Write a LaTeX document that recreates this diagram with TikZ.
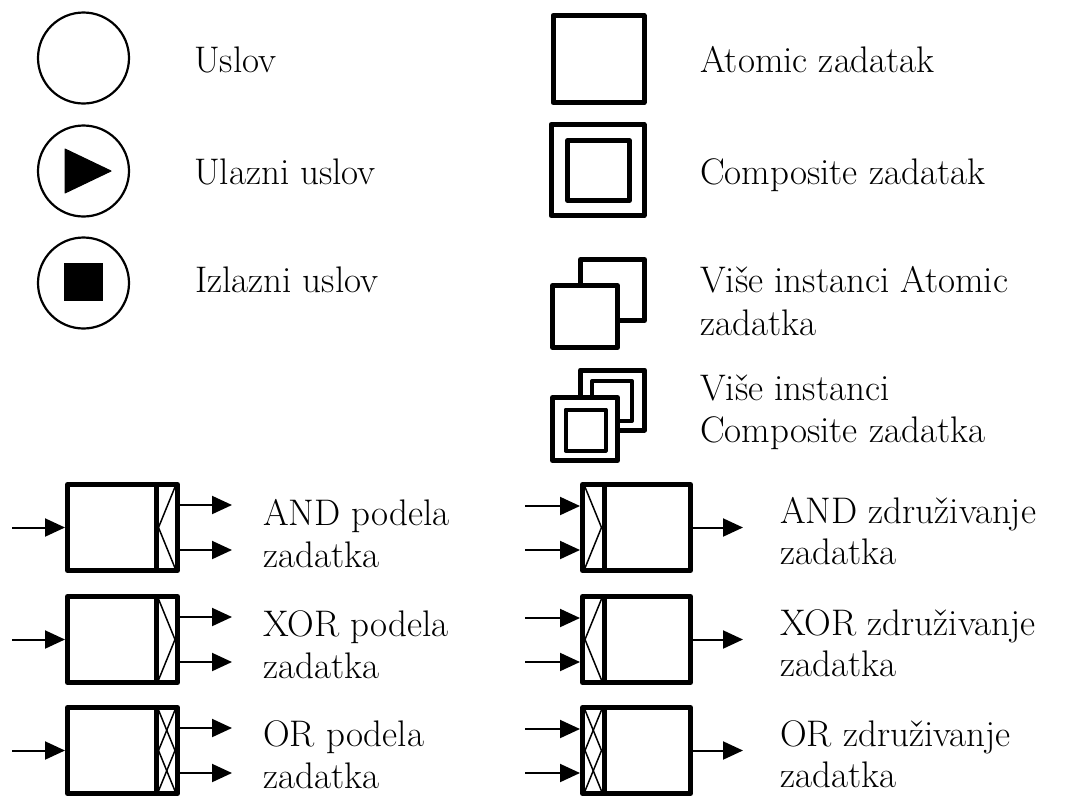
\documentclass[tikz,border=0pt]{standalone}
\usepackage{fontspec}
\usetikzlibrary{arrows.meta}
\begin{document}
\begin{tikzpicture}[x=1pt,y=-1pt,
  lbl/.style={anchor=base west, inner sep=0pt, font=\fontsize{37}{42}\selectfont},
  cond/.style={circle, draw, line width=2.2pt, inner sep=0pt, minimum size=91pt},
  task/.style={draw, line width=5pt, line join=round, fill=white, inner sep=0pt, outer sep=2.5pt},
  inner task/.style={draw, line width=4.5pt, line join=round, inner sep=0pt},
  bar/.style={line width=5pt},
  gate/.style={line width=1.5pt},
  flow/.style={line width=2pt, -{Triangle[length=20pt,width=18pt]}},
]
\useasboundingbox (0,0) rectangle (1073,809);
\clip (0,0) rectangle (1073,809);

% ---- conditions ----
\node[cond] (c1) at (83.5,58) {};
\node[lbl] (t1) at (194,72) {Uslov};

\node[cond] (c2) at (83.5,171) {};
\filldraw[line width=1pt, line join=round] (65,149) -- (111,171) -- (65,193) -- cycle;
\node[lbl] (t2) at (194,184) {Ulazni uslov};

\node[cond] (c3) at (83.5,283) {};
\fill (64,263) rectangle (103,301);
\node[lbl] (t3) at (195,292) {Izlazni uslov};

% ---- tasks ----
\node[task, minimum width=91pt, minimum height=87pt] (a1) at (598.5,59) {};
\node[lbl] (t4) at (700,72) {Atomic zadatak};

\node[task, minimum width=93pt, minimum height=91pt] (a2) at (597.5,170) {};
\node[inner task, minimum width=62pt, minimum height=60pt] (a2i) at (598.5,170.5) {};
\node[lbl] (t5) at (700,184) {Composite zadatak};

% multiple instances, atomic
\node[task, minimum width=64pt, minimum height=61pt] (m1b) at (612.5,290) {};
\node[task, minimum width=65pt, minimum height=62pt] (m1f) at (585,316.5) {};
\node[lbl] (t6a) at (700,292) {Više instanci Atomic};
\node[lbl] (t6b) at (700,335) {zadatka};

% multiple instances, composite
\node[task, minimum width=64pt, minimum height=60pt] (m2b) at (612.5,400) {};
\node[inner task, line width=4pt, minimum width=40pt, minimum height=40pt] (m2bi) at (612,401) {};
\node[task, minimum width=65pt, minimum height=63pt] (m2f) at (585,429) {};
\node[inner task, line width=4pt, minimum width=40pt, minimum height=41pt] (m2fi) at (585.5,430) {};
\node[lbl] (t7a) at (700,400) {Više instanci};
\node[lbl] (t7b) at (700,442) {Composite zadatka};

% ---- split tasks ----
% AND split
\begin{scope}[shift={(0,482)}]
  \node[task, minimum width=110pt, minimum height=86pt] (s1) at (122.5,45.5) {};
  \draw[bar] (156,2.5) -- (156,88.5);
  \draw[gate] (175,5) -- (158.5,45.5) -- (175,86);
  \coordinate (s1in) at (12,45.5);
  \coordinate (s1o1) at (232,23);
  \coordinate (s1o2) at (232,68);
  \draw[flow] (s1in) -- (s1.west);
  \draw[flow] (s1.east |- s1o1) -- (s1o1);
  \draw[flow] (s1.east |- s1o2) -- (s1o2);
  \node[lbl] (l1a) at (263,43) {AND podela};
  \node[lbl] (l1b) at (263,85) {zadatka};
\end{scope}

% XOR split
\begin{scope}[shift={(0,594)}]
  \node[task, minimum width=110pt, minimum height=86pt] (s2) at (122.5,45.5) {};
  \draw[bar] (156,2.5) -- (156,88.5);
  \draw[gate] (158.5,5) -- (175,45.5) -- (158.5,86);
  \coordinate (s2in) at (12,45.5);
  \coordinate (s2o1) at (232,23);
  \coordinate (s2o2) at (232,68);
  \draw[flow] (s2in) -- (s2.west);
  \draw[flow] (s2.east |- s2o1) -- (s2o1);
  \draw[flow] (s2.east |- s2o2) -- (s2o2);
  \node[lbl] (l2a) at (263,42) {XOR podela};
  \node[lbl] (l2b) at (263,84) {zadatka};
\end{scope}

% OR split
\begin{scope}[shift={(0,705)}]
  \node[task, minimum width=110pt, minimum height=86pt] (s3) at (122.5,45.5) {};
  \draw[bar] (156,2.5) -- (156,88.5);
  \draw[gate] (175,5) -- (158.5,45.5) -- (175,86);
  \draw[gate] (158.5,5) -- (175,45.5) -- (158.5,86);
  \coordinate (s3in) at (12,45.5);
  \coordinate (s3o1) at (232,23);
  \coordinate (s3o2) at (232,68);
  \draw[flow] (s3in) -- (s3.west);
  \draw[flow] (s3.east |- s3o1) -- (s3o1);
  \draw[flow] (s3.east |- s3o2) -- (s3o2);
  \node[lbl] (l3a) at (263,41) {OR podela};
  \node[lbl] (l3b) at (263,83) {zadatka};
\end{scope}

% ---- join tasks ----
% AND join
\begin{scope}[shift={(0,482)}]
  \node[task, minimum width=108pt, minimum height=86pt] (j1) at (636.5,45.5) {};
  \draw[bar] (604,2.5) -- (604,88.5);
  \draw[gate] (585,5) -- (601.5,45.5) -- (585,86);
  \coordinate (j1i1) at (525,24);
  \coordinate (j1i2) at (525,68);
  \coordinate (j1out) at (743,45.5);
  \draw[flow] (j1i1) -- (j1.west |- j1i1);
  \draw[flow] (j1i2) -- (j1.west |- j1i2);
  \draw[flow] (j1.east) -- (j1out);
  \node[lbl] (r1a) at (780,41) {AND združivanje};
  \node[lbl] (r1b) at (780,82) {zadatka};
\end{scope}

% XOR join
\begin{scope}[shift={(0,594)}]
  \node[task, minimum width=108pt, minimum height=86pt] (j2) at (636.5,45.5) {};
  \draw[bar] (604,2.5) -- (604,88.5);
  \draw[gate] (601.5,5) -- (585,45.5) -- (601.5,86);
  \coordinate (j2i1) at (525,24);
  \coordinate (j2i2) at (525,68);
  \coordinate (j2out) at (743,45.5);
  \draw[flow] (j2i1) -- (j2.west |- j2i1);
  \draw[flow] (j2i2) -- (j2.west |- j2i2);
  \draw[flow] (j2.east) -- (j2out);
  \node[lbl] (r2a) at (780,41) {XOR združivanje};
  \node[lbl] (r2b) at (780,82) {zadatka};
\end{scope}

% OR join
\begin{scope}[shift={(0,705)}]
  \node[task, minimum width=108pt, minimum height=86pt] (j3) at (636.5,45.5) {};
  \draw[bar] (604,2.5) -- (604,88.5);
  \draw[gate] (585,5) -- (601.5,45.5) -- (585,86);
  \draw[gate] (601.5,5) -- (585,45.5) -- (601.5,86);
  \coordinate (j3i1) at (525,24);
  \coordinate (j3i2) at (525,68);
  \coordinate (j3out) at (743,45.5);
  \draw[flow] (j3i1) -- (j3.west |- j3i1);
  \draw[flow] (j3i2) -- (j3.west |- j3i2);
  \draw[flow] (j3.east) -- (j3out);
  \node[lbl] (r3a) at (780,41) {OR združivanje};
  \node[lbl] (r3b) at (780,82) {zadatka};
\end{scope}
\end{tikzpicture}
\end{document}
